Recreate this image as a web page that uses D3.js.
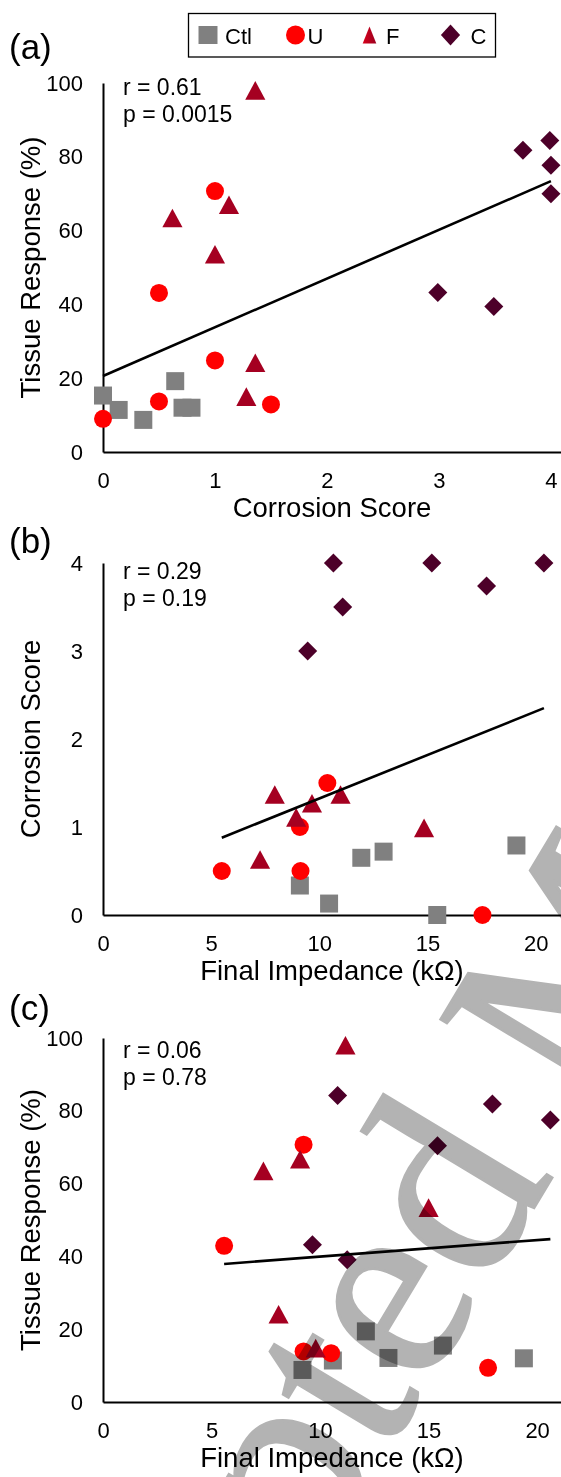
<!DOCTYPE html>
<html>
<head>
<meta charset="utf-8">
<script src="https://cdn.jsdelivr.net/npm/d3@7"></script>
<style>
  body { margin: 0; background: #fff; }
  text { font-family: "Liberation Sans", Arial, sans-serif; }
</style>
</head>
<body>
<div id="chart"></div>
<script>
const groups = ["Ctl", "U", "F", "C"];
const colors = ["#808080", "#ff0000", "#a50021", "#4d0029"];

// (a) corrosion score vs tissue response
const ctlA = [[0, 15.3], [0.14, 11.4], [0.36, 8.7], [0.645, 19.2], [0.71, 12.0], [0.79, 12.0]];
const uA = [[0, 9.0], [0.5, 43.1], [1, 24.8], [0.5, 13.7], [1.5, 12.9], [1, 70.7]];
const fA = [[1.36, 98], [0.62, 63.4], [1.125, 67], [1.0, 53.6], [1.36, 24.2], [1.28, 15.0]];
const cA = [[3.75, 81.8], [3.99, 84.4], [4, 77.7], [4, 70.0], [2.99, 43.2], [3.49, 39.4]];

// (b) final impedance vs corrosion score
const ctlB = [[9.10, 0.335], [10.45, 0.13], [11.94, 0.65], [12.97, 0.72], [15.45, 0], [19.11, 0.79]];
const uB = [[10.37, 1.5], [9.10, 1.0], [5.49, 0.5], [9.13, 0.5], [17.54, 0]];
const fB = [[7.94, 1.37], [9.66, 1.27], [10.98, 1.37], [8.93, 1.11], [14.84, 0.99], [7.26, 0.63]];
const cB = [[10.65, 4], [15.2, 4], [20.38, 4], [17.73, 3.74], [11.08, 3.5], [9.46, 3.0]];

// (c) final impedance vs tissue response
const ctlC = [[9.19, 8.8], [10.59, 11.4], [12.11, 19.4], [13.15, 12.1], [15.66, 15.5], [19.39, 12.0]];
const uC = [[5.58, 42.9], [9.24, 70.7], [9.24, 13.9], [10.51, 13.4], [17.74, 9.4]];
const fC = [[11.17, 98], [9.08, 66.7], [7.39, 63.5], [15.0, 53.4], [8.09, 24.1], [9.8, 14.8]];
const cC = [[10.81, 84.2], [17.94, 81.9], [20.61, 77.5], [15.41, 70.4], [9.65, 43.2], [11.25, 39.1]];

// linear fits [intercept, slope]
const fitA = [20.6, 13.2];
const fitB = [0.335, 0.0989];
const fitC = [35.4, 0.454];

const statsA = ["r = 0.61", "p = 0.0015"];
const statsB = ["r = 0.29", "p = 0.19"];
const statsC = ["r = 0.06", "p = 0.78"];

const xTicksA = [0, 1, 2, 3, 4];
const yTicksA = [0, 20, 40, 60, 80, 100];
const xTicksB = [0, 5, 10, 15, 20];
const yTicksB = [0, 1, 2, 3, 4];
const xTicksC = [0, 5, 10, 15, 20];
const yTicksC = [0, 20, 40, 60, 80, 100];

const width = 561, height = 1477;

const svg = d3.select("#chart").append("svg")
  .attr("width", width)
  .attr("height", height);

svg.append("rect").attr("width", width).attr("height", height).attr("fill", "#fff");

// marker shapes, size = box edge
const shapes = [
  {draw(ctx, s) { ctx.rect(-s / 2, -s / 2, s, s); }},
  {draw(ctx, s) { ctx.arc(0, 0, s / 2, 0, 2 * Math.PI); }},
  {draw(ctx, s) {
    ctx.moveTo(0, -s * 0.49);
    ctx.lineTo(s * 0.53, s * 0.49);
    ctx.lineTo(-s * 0.53, s * 0.49);
    ctx.closePath();
  }},
  {draw(ctx, s) {
    ctx.moveTo(0, -s / 2);
    ctx.lineTo(s / 2, 0);
    ctx.lineTo(0, s / 2);
    ctx.lineTo(-s / 2, 0);
    ctx.closePath();
  }}
];
const markSize = [18, 18, 19, 19];

function drawPanel(p) {
  const x = d3.scaleLinear().domain(p.xDomain).range([103, 561]);
  const y = d3.scaleLinear().domain(p.yDomain).range(p.yRange);
  const g = svg.append("g");

  const yAxis = g.append("g")
    .attr("transform", "translate(103,0)")
    .call(d3.axisLeft(y).tickValues(p.yTicks).tickFormat(d3.format("d"))
      .tickSize(0).tickPadding(20).tickSizeOuter(0));
  const xAxis = g.append("g")
    .attr("transform", `translate(0,${p.yRange[0]})`)
    .call(d3.axisBottom(x).tickValues(p.xTicks).tickFormat(d3.format("d"))
      .tickSize(0).tickPadding(20).tickSizeOuter(0));
  [xAxis, yAxis].forEach(a => {
    a.select(".domain").attr("stroke", "#000").attr("stroke-width", 2);
    a.selectAll("text").attr("font-size", 22).attr("fill", "#000");
  });

  // axis titles
  g.append("text")
    .attr("x", 332)
    .attr("y", p.yRange[0] + 65)
    .attr("text-anchor", "middle")
    .attr("font-size", 27.5)
    .text(p.xTitle);
  g.append("text")
    .attr("transform", `translate(40,${(p.yRange[0] + p.yRange[1]) / 2}) rotate(-90)`)
    .attr("text-anchor", "middle")
    .attr("font-size", 27.5)
    .text(p.yTitle);

  // panel letter
  g.append("text")
    .attr("x", 9)
    .attr("y", p.labelY)
    .attr("font-size", 35)
    .text(p.label);

  // r and p
  g.selectAll(".stat")
    .data(p.stats)
    .join("text")
    .attr("x", 123)
    .attr("y", (d, i) => p.yRange[1] + p.statOffset + i * 27)
    .attr("font-size", 23)
    .text(d => d);

  // points
  p.series.forEach((pts, i) => {
    const sym = d3.symbol().type(shapes[i]).size(markSize[i]);
    g.append("g")
      .selectAll("path")
      .data(pts)
      .join("path")
      .attr("transform", d => `translate(${x(d[0])},${y(d[1])})`)
      .attr("d", sym)
      .attr("fill", colors[i]);
  });

  // trend line over the data range
  const allX = p.series.flat().map(d => d[0]);
  const ext = d3.extent(allX);
  g.append("line")
    .attr("x1", x(ext[0]))
    .attr("y1", y(p.fit[0] + p.fit[1] * ext[0]))
    .attr("x2", x(ext[1]))
    .attr("y2", y(p.fit[0] + p.fit[1] * ext[1]))
    .attr("stroke", "#000")
    .attr("stroke-width", 2.6);
}

drawPanel({
  label: "(a)", labelY: 59,
  series: [ctlA, uA, fA, cA], fit: fitA, stats: statsA, statOffset: 12,
  xDomain: [0, 4.09], yDomain: [0, 100], yRange: [452, 83],
  xTicks: xTicksA, yTicks: yTicksA,
  xTitle: "Corrosion Score", yTitle: "Tissue Response (%)"
});
drawPanel({
  label: "(b)", labelY: 553,
  series: [ctlB, uB, fB, cB], fit: fitB, stats: statsB, statOffset: 15.5,
  xDomain: [0, 21.17], yDomain: [0, 4], yRange: [915, 563],
  xTicks: xTicksB, yTicks: yTicksB,
  xTitle: "Final Impedance (k\u03a9)", yTitle: "Corrosion Score"
});
drawPanel({
  label: "(c)", labelY: 1020,
  series: [ctlC, uC, fC, cC], fit: fitC, stats: statsC, statOffset: 20,
  xDomain: [0, 21.1], yDomain: [0, 100], yRange: [1402, 1038],
  xTicks: xTicksC, yTicks: yTicksC,
  xTitle: "Final Impedance (k\u03a9)", yTitle: "Tissue Response (%)"
});

// legend
const defs = svg.append("defs");
const grad = defs.append("linearGradient").attr("id", "triGrad");
grad.append("stop").attr("offset", "0%").attr("stop-color", "#d8001a");
grad.append("stop").attr("offset", "100%").attr("stop-color", "#9a0020");

const legend = svg.append("g");
legend.append("rect")
  .attr("x", 188.5).attr("y", 13.5)
  .attr("width", 307).attr("height", 43.5)
  .attr("fill", "#fff").attr("stroke", "#000").attr("stroke-width", 1.3);

const legendX = [208, 295.5, 369.5, 450.5];
const legendText = [225, 307.5, 386, 470.5];
const legendShape = [
  {draw(ctx) { ctx.rect(-9.5, -9, 19, 18); }},
  {draw(ctx) { ctx.arc(0, 0, 9.5, 0, 2 * Math.PI); }},
  {draw(ctx) { ctx.moveTo(0, -8.4); ctx.lineTo(6.8, 8.4); ctx.lineTo(-6.8, 8.4); ctx.closePath(); }},
  {draw(ctx) { ctx.moveTo(0, -10.4); ctx.lineTo(9.6, 0); ctx.lineTo(0, 10.4); ctx.lineTo(-9.6, 0); ctx.closePath(); }}
];
legend.selectAll(".lsym")
  .data(groups)
  .join("path")
  .attr("transform", (d, i) => `translate(${legendX[i]},35)`)
  .attr("d", (d, i) => d3.symbol().type(legendShape[i])())
  .attr("fill", (d, i) => i === 2 ? "url(#triGrad)" : colors[i]);
legend.selectAll(".ltxt")
  .data(groups)
  .join("text")
  .attr("x", (d, i) => legendText[i])
  .attr("y", 43.5)
  .attr("font-size", 22)
  .text(d => d);

// watermark, placed so the "e" of "ted" sits where it does in the source
const wmSize = 270, wmAngle = -59;
const wm = svg.append("g").style("mix-blend-mode", "multiply");
const wmText = wm.append("text")
  .attr("x", 0).attr("y", 0)
  .style("font-family", '"Liberation Serif", "Times New Roman", serif')
  .attr("font-size", wmSize)
  .attr("fill", "#b3b3b3")
  .attr("stroke", "#b3b3b3")
  .attr("stroke-width", 3)
  .text("Accepted Manuscript");
const node = wmText.node();
const s0 = node.getStartPositionOfChar(6), e0 = node.getEndPositionOfChar(6);
const lx = (s0.x + e0.x) / 2, ly = -0.23 * wmSize;
const rad = wmAngle * Math.PI / 180;
const tx = 400 - (lx * Math.cos(rad) - ly * Math.sin(rad));
const ty = 1310 - (lx * Math.sin(rad) + ly * Math.cos(rad));
wm.attr("transform", `translate(${tx},${ty}) rotate(${wmAngle})`);
</script>
</body>
</html>
